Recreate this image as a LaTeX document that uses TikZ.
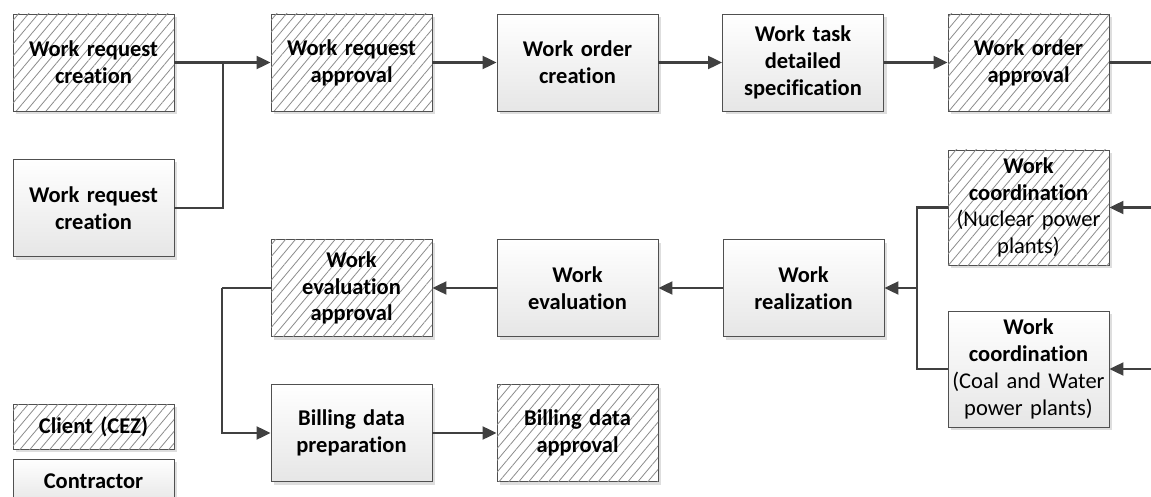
\documentclass[tikz,border=0pt]{standalone}
\usepackage{fontspec}
\setmainfont[Ligatures=NoCommon]{Carlito}
\usetikzlibrary{arrows.meta,patterns.meta,shadows}
\definecolor{edge}{HTML}{505050}
\definecolor{conn}{HTML}{404040}
\definecolor{hatch}{HTML}{8C8C8C}
\definecolor{shade}{HTML}{E6E6E6}
\tikzset{
  base/.style={draw=edge, line width=0.9pt, minimum width=161pt, minimum height=97pt,
    inner sep=0pt, text width=158pt, align=center,
    font=\fontsize{22.5pt}{26.8pt}\selectfont\bfseries,
    drop shadow={shadow xshift=3pt, shadow yshift=-3pt, fill=black!13, opacity=1}},
  contr/.style={base, top color=white, bottom color=shade},
  client/.style={base, fill=white, postaction={pattern={Lines[angle=50,distance=7.6pt,line width=0.8pt]}, pattern color=hatch}},
  arr/.style={draw=conn, line width=2.2pt, -{Triangle[length=14pt,width=13pt]}},
  ln/.style={draw=conn, line width=2.2pt},
}
\begin{document}
\begin{tikzpicture}[x=1pt,y=-1pt]
\useasboundingbox (0,0) rectangle (1151,497);
\clip (0,0) rectangle (1151,497);
% row 1
\node[client] (wrc1) at (93.5,62.5) {Work request\\creation};
\node[contr] (wrc2) at (93.5,208) {Work request\\creation};
\node[client] (wra) at (351.5,62.5) {Work request\\approval};
\node[contr] (woc) at (577.5,62.5) {Work order\\creation};
\node[contr] (wtd) at (803,62.5) {Work task\\detailed\\specification};
\node[client] (woa) at (1028.5,62.5) {Work order\\approval};
% right column
\node[client, minimum height=115pt] (wcn) at (1028.5,207.5) {Work\\coordination\\{\mdseries (Nuclear power\\plants)}};
\node[contr, minimum height=116pt] (wcc) at (1028.5,369) {Work\\coordination\\{\mdseries (Coal and Water\\power plants)}};
% row 2
\node[contr] (wr) at (803.5,288) {Work\\realization};
\node[contr] (we) at (577.5,288) {Work\\evaluation};
\node[client] (wea) at (351.5,288) {Work\\evaluation\\approval};
% row 3
\node[contr] (bdp) at (351.5,433) {Billing data\\preparation};
\node[client] (bda) at (577.5,433) {Billing data\\approval};
% legend
\node[client, minimum height=45pt] (lcl) at (93.5,426.5) {Client (CEZ)};
\node[contr, minimum height=45pt] (lco) at (93.5,481.5) {Contractor};
% coordinates
\coordinate (j1) at (223,62.5);
\coordinate (j2) at (917,288);
\coordinate (j3) at (222,288);
\coordinate (o1) at (1152,62.5);
\coordinate (i1) at (1152,207.5);
\coordinate (i2) at (1152,369);
% connectors
\draw[arr] (wrc1.east) -- (wra.west);
\draw[ln] (wrc2.east) -| (j1);
\draw[arr] (wra.east) -- (woc.west);
\draw[arr] (woc.east) -- (wtd.west);
\draw[arr] (wtd.east) -- (woa.west);
\draw[ln] (woa.east) -- (o1);
\draw[arr] (i1) -- (wcn.east);
\draw[arr] (i2) -- (wcc.east);
\draw[ln] (wcn.west) -| (j2);
\draw[ln] (wcc.west) -| (j2);
\draw[arr] (j2) -- (wr.east);
\draw[arr] (wr.west) -- (we.east);
\draw[arr] (we.west) -- (wea.east);
\draw[ln] (wea.west) -- (j3);
\draw[arr] (j3) |- (bdp.west);
\draw[arr] (bdp.east) -- (bda.west);
\end{tikzpicture}
\end{document}
